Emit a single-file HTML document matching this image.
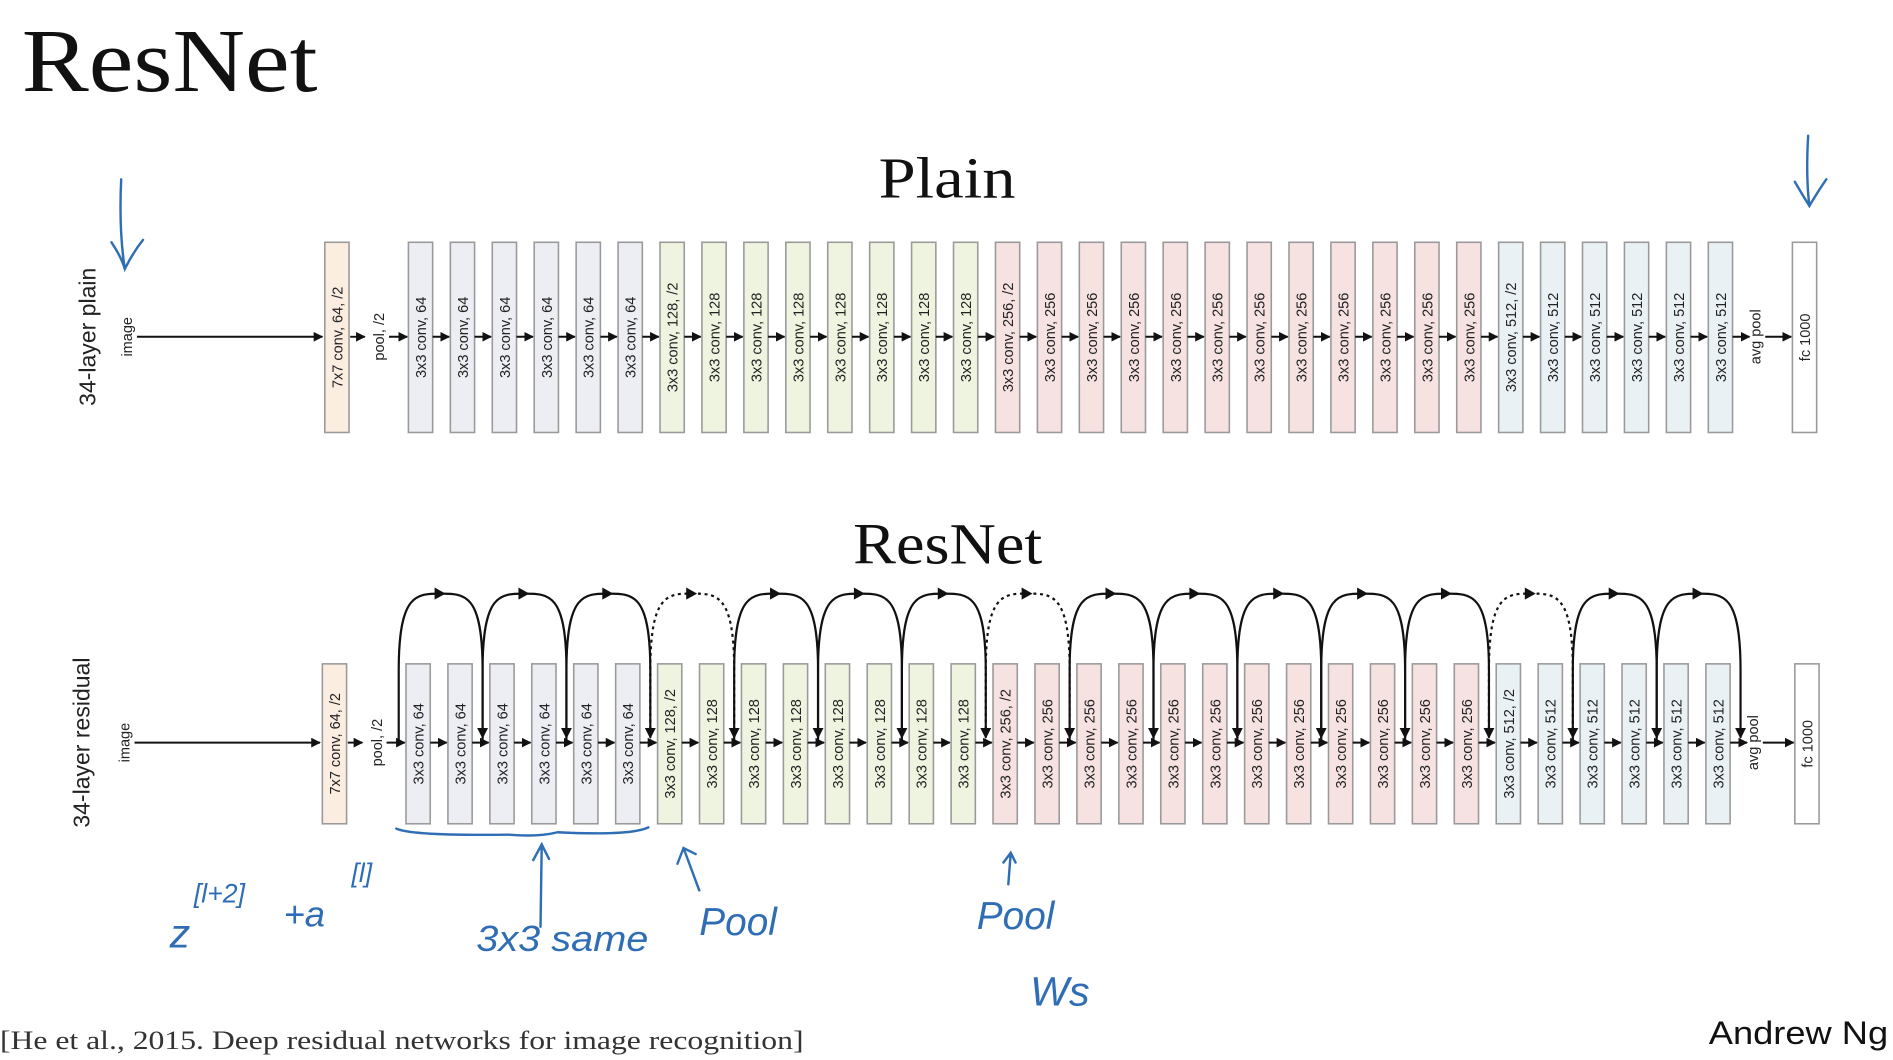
<!DOCTYPE html>
<html><head><meta charset="utf-8"><style>
html,body{margin:0;padding:0;background:#fff;width:1893px;height:1060px;overflow:hidden}
svg{display:block}
.bl{font-family:"Liberation Sans",sans-serif;font-size:12px;fill:#222}
.hw{font-family:"Liberation Sans",sans-serif;font-style:italic;fill:#2f6db5}
</style></head><body>
<svg id="s" width="1893" height="1060" viewBox="0 0 1562 875" preserveAspectRatio="none" xmlns="http://www.w3.org/2000/svg">
<defs>
<marker id="ah" viewBox="0 0 10 10" refX="9" refY="5" markerWidth="5" markerHeight="5" orient="auto"><path d="M0,0L10,5L0,10z" fill="#111"/></marker>
</defs>
<text x="18" y="75" font-family="Liberation Serif,serif" font-size="74" fill="#111" textLength="244" lengthAdjust="spacingAndGlyphs">ResNet</text>
<text x="725" y="163" font-family="Liberation Serif,serif" font-size="48" fill="#111" textLength="113" lengthAdjust="spacingAndGlyphs">Plain</text>
<text x="704" y="465" font-family="Liberation Serif,serif" font-size="48" fill="#111" textLength="156" lengthAdjust="spacingAndGlyphs">ResNet</text>
<text transform="translate(79,278) rotate(-90)" text-anchor="middle" font-family="Liberation Sans,sans-serif" font-size="19" fill="#222">34-layer plain</text>
<text transform="translate(74,613) rotate(-90)" text-anchor="middle" font-family="Liberation Sans,sans-serif" font-size="19" fill="#222">34-layer residual</text>
<g id="plain"></g>
<g id="res"></g>
<g stroke="#2f6db5" stroke-width="2" fill="none" stroke-linecap="round">
<path d="M100,148 Q98,190 103,222 M92,200 Q100,212 103,222 Q110,208 118,198"/>
<path d="M1492,112 Q1490,145 1493,170 M1481,150 Q1488,162 1493,170 Q1500,158 1507,148"/>
<path d="M327,684 Q340,690 420,689 Q445,691 460,687 Q520,690 535,683"/>
<path d="M446,765 L447,697 M440,710 L447,697 L453,709"/>
<path d="M577,735 L564,700 M559,713 L564,700 L574,705"/>
<path d="M832,730 L834,704 M828,712 L834,704 L838,712"/>
</g>
<text class="hw" x="140" y="782" font-size="34">z</text>
<text class="hw" x="160" y="745" font-size="22">[l+2]</text>
<text class="hw" x="234" y="765" font-size="30">+a</text>
<text class="hw" x="290" y="728" font-size="22">[l]</text>
<text class="hw" x="393" y="785" font-size="30" textLength="142" lengthAdjust="spacingAndGlyphs">3x3 same</text>
<text class="hw" x="577" y="772" font-size="32">Pool</text>
<text class="hw" x="806" y="767" font-size="32">Pool</text>
<text class="hw" x="850" y="830" font-size="34">Ws</text>
<text x="0" y="866" font-family="Liberation Serif,serif" font-size="22" fill="#333" textLength="663" lengthAdjust="spacingAndGlyphs">[He et al., 2015. Deep residual networks for image recognition]</text>
<text x="1410" y="862" font-family="Liberation Sans,sans-serif" font-size="27" fill="#111" textLength="148" lengthAdjust="spacingAndGlyphs">Andrew Ng</text>
</svg>
<script>
const layerLabels = ["3x3 conv, 64","3x3 conv, 64","3x3 conv, 64","3x3 conv, 64","3x3 conv, 64","3x3 conv, 64",
"3x3 conv, 128, /2","3x3 conv, 128","3x3 conv, 128","3x3 conv, 128","3x3 conv, 128","3x3 conv, 128","3x3 conv, 128","3x3 conv, 128",
"3x3 conv, 256, /2","3x3 conv, 256","3x3 conv, 256","3x3 conv, 256","3x3 conv, 256","3x3 conv, 256","3x3 conv, 256","3x3 conv, 256","3x3 conv, 256","3x3 conv, 256","3x3 conv, 256","3x3 conv, 256",
"3x3 conv, 512, /2","3x3 conv, 512","3x3 conv, 512","3x3 conv, 512","3x3 conv, 512","3x3 conv, 512"];
const layerGroups = [0,0,0,0,0,0,1,1,1,1,1,1,1,1,2,2,2,2,2,2,2,2,2,2,2,2,3,3,3,3,3,3];
const dottedSkips = [3,7,13];
const fills = ["#eceef4","#eef4df","#f6e2e1","#e9f1f4"];
const NS="http://www.w3.org/2000/svg";
function mk(tag,attrs,parent){const e=document.createElementNS(NS,tag);for(const k in attrs)e.setAttribute(k,attrs[k]);parent.appendChild(e);return e;}
function box(g,x,top,bot,fill,label,name){
  const r=mk('rect',{x:x,y:top,width:20,height:bot-top,fill:fill,stroke:'#9a9a9a','stroke-width':1.3},g);
  
  
  const t=mk('text',{class:'bl',transform:`translate(${x+14.5},${(top+bot)/2}) rotate(-90)`,'text-anchor':'middle'},g);
  t.textContent=label;
  
  
}
function arrow(g,x1,x2,y){const l=mk('line',{x1:x1,y1:y,x2:x2,y2:y,stroke:'#111','stroke-width':1.6,'marker-end':'url(#ah)'},g);
  
  }
function vtext(g,x,y,s,size,name){const t=mk('text',{class:'bl',transform:`translate(${x},${y}) rotate(-90)`,'text-anchor':'middle','font-size':size},g);t.textContent=s;
  
  }
function row(g,off,top,bot,y,skips){
  const step=34.6, x0=337+off;
  const bx=i=>x0+i*step;
  vtext(g,109+off,y,'image',10,'image-label');
  arrow(g,113+off,266+off,y);
  box(g,268+off,top,bot,'#fbeee1','7x7 conv, 64, /2','conv1-box');
  arrow(g,289+off,301+off,y);
  vtext(g,317+off,y,'pool, /2',11,'pool-label');
  arrow(g,321+off,bx(0)-1,y);
  layerLabels.forEach((lab,i)=>{
    box(g,bx(i),top,bot,fills[layerGroups[i]],lab,'conv-box-'+(i+1));
    if(i<layerLabels.length-1) arrow(g,bx(i)+20,bx(i+1)-1,y);
  });
  const last=bx(layerLabels.length-1)+20;
  arrow(g,last,last+14,y);
  vtext(g,last+23,y,'avg pool',11,'avgpool-label');
  const fx=1479+off+(skips?4:0);
  arrow(g,last+27,fx-1,y);
  box(g,fx,top,bot,'#fff','fc 1000','fc-box');
  if(skips){
    for(let k=0;k<layerLabels.length/2;k++){
      const xa=bx(2*k)-6, xb=bx(2*k+2)-6, xm=(xa+xb)/2, top2=490;
      const dotted=dottedSkips.includes(k);
      const p=mk('path',{d:`M${xa},${y} L${xa},${y-60} C${xa},${top2} ${xm-20},${top2} ${xm},${top2} C${xm+20},${top2} ${xb},${top2} ${xb},${y-60} L${xb},${y-4}`,fill:'none',stroke:'#111','stroke-width':1.8,'stroke-dasharray':dotted?'2.5,3':'none','marker-end':'url(#ah)'},g);
      
      
      const h=mk('path',{d:`M${xm+4},${top2} l-9,-5 l0,10z`,fill:'#111'},g);
      
      
    }
  }
}
row(document.getElementById('plain'),0,200,357,278,false);
row(document.getElementById('res'),-2,548,680,613,true);
</script>
</body></html>
